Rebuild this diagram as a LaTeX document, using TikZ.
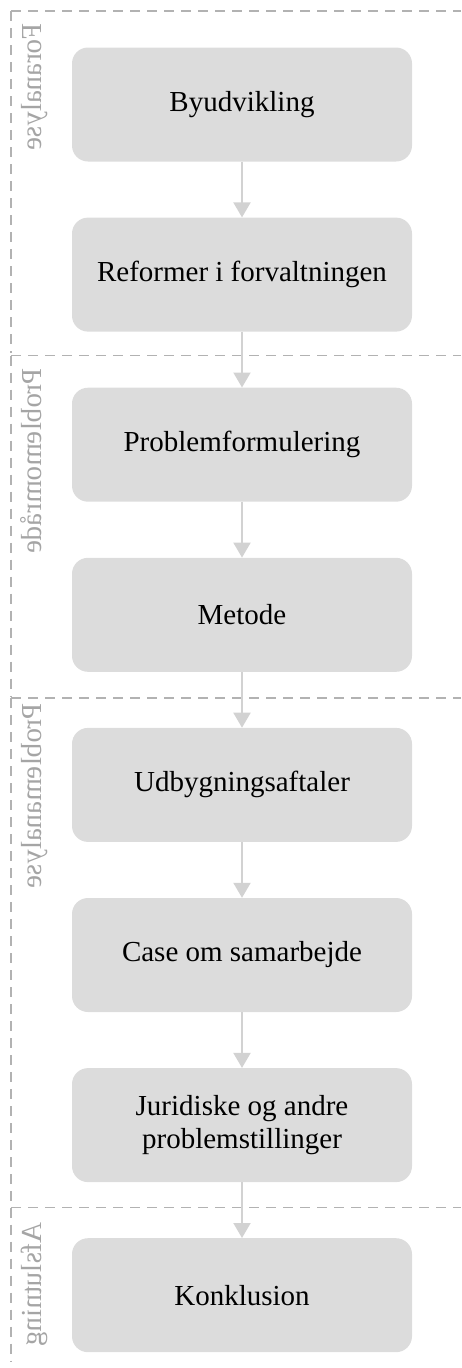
\documentclass[tikz,border=0pt]{standalone}
\usepackage{fontspec}
\setmainfont{Liberation Serif}
\usetikzlibrary{arrows.meta}
\definecolor{boxgray}{RGB}{220,220,220}
\definecolor{arrowgray}{RGB}{210,210,210}
\definecolor{framegray}{RGB}{178,178,178}
\definecolor{labelgray}{RGB}{165,165,165}
\tikzstyle{line} = [draw=arrowgray, line width=2pt, -{Triangle[length=15pt,width=17pt]}]
\tikzstyle{frame} = [draw=framegray, line width=1.5pt, dash pattern=on 10pt off 7pt]

\begin{document}
\begin{tikzpicture}[x=1pt, y=1pt,
        stage/.style={fill=boxgray, rounded corners=16pt, inner sep=0pt,
            minimum width=340pt, minimum height=114pt, align=center,
            font=\fontsize{29}{33}\selectfont},
        phase/.style={text=labelgray, inner sep=0pt, rotate=-90, yscale=-1,
            anchor=base west, font=\fontsize{29}{33}\selectfont}]
        \useasboundingbox (0,0) rectangle (461,-1368);
        %% Phases
        \draw [frame] (11,-11) -- (461,-11);
        \draw [frame] (11,-11) -- (11,-353);
        \draw [frame] (11,-355.5) -- (461,-355.5);
        \draw [frame] (11,-355.5) -- (11,-696);
        \draw [frame] (11,-698) -- (461,-698);
        \draw [frame] (11,-698) -- (11,-1205);
        \draw [frame] (11,-1207.5) -- (461,-1207.5);
        \draw [frame] (11,-1207.5) -- (11,-1362);
        \node [phase] at (41,-23) (P1) {Foranalyse};
        \node [phase] at (41,-368) (P2) {Problemområde};
        \node [phase] at (41,-703) (P3) {Problemanalyse};
        \node [phase] at (41,-1222) (P4) {Afslutning};
        %% Vertices
        \node [stage] at (242,-104.5) (byud) {Byudvikling};
        \node [stage] at (242,-274.6) (reform) {Reformer i forvaltningen};
        \node [stage] at (242,-444.7) (probl) {Problemformulering};
        \node [stage] at (242,-614.8) (metode) {Metode};
        \node [stage] at (242,-784.9) (udbyg) {Udbygningsaftaler};
        \node [stage] at (242,-955) (case) {Case om samarbejde};
        \node [stage] at (242,-1125.1) (jura) {Juridiske og andre\\problemstillinger};
        \node [stage] at (242,-1295.2) (konkl) {Konklusion};
        %% Arcs
        \path [line] (byud) -- (reform);
        \path [line] (reform) -- (probl);
        \path [line] (probl) -- (metode);
        \path [line] (metode) -- (udbyg);
        \path [line] (udbyg) -- (case);
        \path [line] (case) -- (jura);
        \path [line] (jura) -- (konkl);
    \end{tikzpicture}
\end{document}
